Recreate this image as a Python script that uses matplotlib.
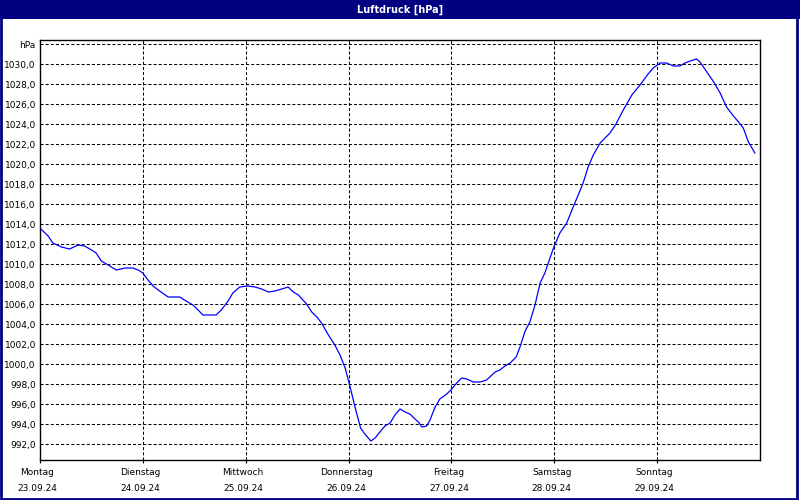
import matplotlib
matplotlib.use("Agg")
import matplotlib.pyplot as plt
from matplotlib.patches import Rectangle
import matplotlib.transforms as mtransforms

plt.rcParams['lines.scale_dashes'] = False

# hours since Monday 23.09.24 00:00
hours = [0.2, 1.9, 3.0, 5.0, 6.9, 8.9, 10.4, 12.0, 13.1, 14.3, 15.9, 17.8, 19.8, 21.7,
         22.9, 24.0, 25.2, 26.4, 27.9, 29.9, 32.6, 34.1, 35.7, 36.9, 38.0, 41.1, 42.3,
         43.9, 45.0, 46.6, 48.5, 50.2, 51.7, 53.3, 54.8, 56.4, 57.9, 59.1, 60.3, 62.2,
         63.4, 64.6, 65.7, 67.3, 68.8, 70.0, 71.2, 72.3, 73.5, 74.8, 75.8, 77.2, 78.2,
         79.3, 80.5, 81.7, 82.8, 84.0, 85.2, 86.3, 87.5, 88.3, 89.1, 90.2, 91.0, 92.2,
         93.3, 94.9, 96.1, 97.2, 98.4, 99.6, 101.1, 102.7, 104.2, 106.2, 107.3, 108.5,
         109.7, 111.1, 112.0, 113.2, 114.3, 115.5, 116.7, 117.8, 119.0, 119.9, 121.3,
         122.9, 124.4, 125.6, 126.8, 127.9, 129.1, 130.7, 133.0, 134.4, 136.1, 138.1,
         140.0, 141.9, 143.1, 144.7, 146.2, 147.8, 149.3, 150.5, 151.7, 153.2, 154.0,
         155.6, 157.2, 158.7, 160.2, 161.8, 163.0, 164.1, 165.3, 166.8]
pressure = [1013.5, 1012.8, 1012.1, 1011.7, 1011.5, 1011.9, 1011.8, 1011.4, 1011.1, 1010.3,
            1009.9, 1009.4, 1009.6, 1009.6, 1009.4, 1009.1, 1008.4, 1007.8, 1007.3, 1006.7,
            1006.7, 1006.3, 1005.9, 1005.4, 1004.9, 1004.9, 1005.4, 1006.3, 1007.1, 1007.7,
            1007.8, 1007.7, 1007.5, 1007.2, 1007.3, 1007.5, 1007.7, 1007.2, 1006.9, 1006.0,
            1005.2, 1004.7, 1004.1, 1002.9, 1001.9, 1000.9, 999.6, 997.8, 995.7, 993.6,
            993.0, 992.3, 992.6, 993.2, 993.8, 994.1, 994.9, 995.5, 995.2, 995.0, 994.5,
            994.2, 993.7, 993.8, 994.4, 995.7, 996.5, 997.0, 997.5, 998.1, 998.6, 998.5,
            998.2, 998.2, 998.4, 999.2, 999.4, 999.8, 1000.1, 1000.7, 1001.7, 1003.3,
            1004.2, 1005.9, 1008.1, 1009.1, 1010.6, 1011.7, 1013.1, 1014.1, 1015.7, 1016.9,
            1018.2, 1019.7, 1020.9, 1022.1, 1023.1, 1024.0, 1025.4, 1026.9, 1027.9, 1029.0,
            1029.6, 1030.1, 1030.1, 1029.8, 1029.8, 1030.1, 1030.3, 1030.5, 1030.2, 1029.2,
            1028.2, 1027.1, 1025.7, 1024.8, 1024.2, 1023.6, 1022.2, 1021.1]

day_names = ["Montag", "Dienstag", "Mittwoch", "Donnerstag", "Freitag", "Samstag", "Sonntag"]
day_dates = ["23.09.24", "24.09.24", "25.09.24", "26.09.24", "27.09.24", "28.09.24", "29.09.24"]
y_ticks = [992, 994, 996, 998, 1000, 1002, 1004, 1006, 1008, 1010, 1012, 1014, 1016,
           1018, 1020, 1022, 1024, 1026, 1028, 1030]
title = "Luftdruck [hPa]"
unit = "hPa"

W, H = 800, 500
fig = plt.figure(figsize=(8, 5), dpi=100, facecolor="white")

# title bar and frame
fig.patches.append(Rectangle((0, 1 - 19 / H), 1, 19 / H, transform=fig.transFigure,
                             facecolor="#000080", edgecolor="none", zorder=0))
fig.patches.append(Rectangle((1 / W, 1.5 / H), 795.5 / W, (H - 3) / H, transform=fig.transFigure,
                             facecolor="none", edgecolor="#000080", linewidth=2.0, zorder=1))
fig.text(0.5, 1 - 9.5 / H, title, color="white", fontweight="bold", fontsize=7,
         ha="center", va="center", family="DejaVu Sans")

ax = fig.add_axes([40 / W, 40 / H, 720 / W, 420 / H])
ax.set_facecolor("white")
ax.plot(hours, pressure, color="#0000FF", linewidth=0.9, zorder=3)

ax.set_xlim(0, 168)
ax.set_ylim(990.4, 1032.4)

dash = (0, (2.2, 1.5))
grid_y = y_ticks + [1032]
for v in grid_y:
    ax.axhline(v, color="black", linewidth=0.75, linestyle=dash, zorder=1)
for d in range(1, 7):
    ax.axvline(d * 24, color="black", linewidth=0.75, linestyle=dash, zorder=1)

ax.set_yticks(grid_y)
ax.set_yticklabels([f"{v:.1f}".replace(".", ",") for v in y_ticks] + [unit])
ax.set_xticks([d * 24 for d in range(7)])
ax.set_xticklabels([f"{n}\n\n{d}" for n, d in zip(day_names, day_dates)], linespacing=0.8)

ax.tick_params(axis="y", length=0, pad=3, labelsize=6.5, colors="black")
ax.tick_params(axis="x", length=2, pad=4, labelsize=6.5, colors="black")
shift = mtransforms.ScaledTranslation(-2.5 / 100, 0, fig.dpi_scale_trans)
for lab in ax.get_xticklabels():
    lab.set_family("DejaVu Sans")
    lab.set_transform(lab.get_transform() + shift)
for lab in ax.get_yticklabels():
    lab.set_family("DejaVu Sans")

for s in ax.spines.values():
    s.set_color("black")
    s.set_linewidth(1.0)

fig.savefig("out.png", dpi=100, facecolor="white")
